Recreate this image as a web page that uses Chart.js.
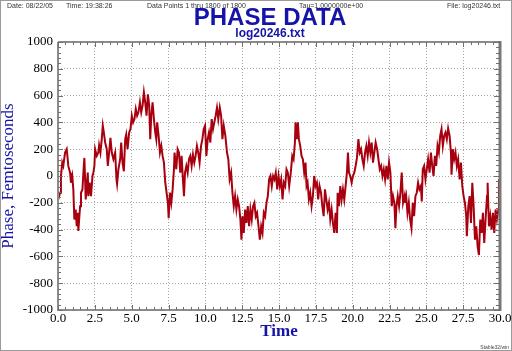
<!DOCTYPE html>
<html>
<head>
<meta charset="utf-8">
<script src="https://cdn.jsdelivr.net/npm/chart.js@4.4.1/dist/chart.umd.min.js"></script>
<style>
  html, body { margin: 0; padding: 0; background: #fff; }
  #wrap { width: 512px; height: 351px; }
</style>
</head>
<body>
<div id="wrap"><canvas id="phaseChart" width="512" height="351"></canvas></div>
<script>
// time (x) and phase in fs (y)
const times = [
  0.00, 0.14, 0.20, 0.29, 0.36, 0.48, 0.59, 0.66, 0.70, 0.82, 0.88, 0.97, 1.04, 1.11, 1.20, 1.27, 1.34, 1.38, 1.50, 1.56,
  1.66, 1.75, 1.79, 1.84, 1.88, 1.95, 2.02, 2.06, 2.15, 2.24, 2.34, 2.40, 2.47, 2.52, 2.63, 2.74, 2.79, 2.88, 2.97, 3.04,
  3.11, 3.20, 3.31, 3.38, 3.47, 3.56, 3.65, 3.76, 3.88, 3.97, 4.01, 4.10, 4.22, 4.29, 4.38, 4.47, 4.56, 4.63, 4.72, 4.83,
  4.92, 5.01, 5.10, 5.19, 5.28, 5.37, 5.46, 5.56, 5.65, 5.74, 5.83, 5.92, 6.01, 6.10, 6.19, 6.26, 6.33, 6.42, 6.51, 6.60,
  6.67, 6.73, 6.83, 6.92, 7.01, 7.10, 7.19, 7.28, 7.37, 7.46, 7.51, 7.60, 7.69, 7.78, 7.87, 7.91,
  8.03, 8.12, 8.21, 8.30, 8.39, 8.48, 8.55, 8.62, 8.71, 8.80, 8.89, 8.98, 9.07, 9.16, 9.25, 9.34, 9.43, 9.52, 9.61, 9.71,
  9.80, 9.89, 9.98, 10.07, 10.16, 10.25, 10.34, 10.43, 10.52, 10.61, 10.70, 10.79, 10.88, 10.98, 11.07, 11.16, 11.25, 11.36, 11.47, 11.56,
  11.65, 11.75, 11.84, 11.93, 12.02, 12.11, 12.20, 12.29, 12.38, 12.45, 12.52, 12.61, 12.70, 12.79, 12.88, 12.97, 13.06, 13.15, 13.24, 13.33,
  13.42, 13.51, 13.61, 13.70, 13.79, 13.88, 13.97, 14.06, 14.15, 14.24, 14.33, 14.42, 14.51, 14.60, 14.69, 14.78, 14.88, 14.97, 15.06, 15.15,
  15.24, 15.33, 15.42, 15.51, 15.60, 15.69,
  15.80, 15.90, 15.99, 16.08, 16.12, 16.21, 16.28, 16.35, 16.44, 16.53, 16.62, 16.71, 16.80, 16.87, 16.94, 17.03, 17.12, 17.21, 17.30, 17.39,
  17.48, 17.57, 17.66, 17.75, 17.85, 17.94, 18.03, 18.12, 18.21, 18.30, 18.39, 18.48, 18.57, 18.66, 18.75, 18.84, 18.93, 18.98, 19.07, 19.16,
  19.25, 19.34, 19.43, 19.52, 19.61, 19.68, 19.75, 19.84, 19.93, 20.02, 20.11, 20.20, 20.29, 20.39, 20.48, 20.57, 20.66, 20.75, 20.84, 20.93,
  21.02, 21.11, 21.20, 21.29, 21.38, 21.47, 21.56, 21.66, 21.75, 21.84, 21.93, 22.02, 22.11, 22.20, 22.29, 22.38, 22.47, 22.56, 22.65, 22.74,
  22.83, 22.90, 22.97, 23.06, 23.15, 23.24, 23.33, 23.42, 23.52,
  23.54, 23.63, 23.72, 23.81, 23.90, 23.99, 24.08, 24.17, 24.26, 24.35, 24.44, 24.53, 24.63, 24.69, 24.76, 24.85, 24.94, 25.03, 25.12, 25.22,
  25.31, 25.40, 25.49, 25.58, 25.67, 25.76, 25.85, 25.94, 26.03, 26.12, 26.21, 26.30, 26.39, 26.48, 26.58, 26.67, 26.71, 26.80, 26.89, 26.98,
  27.07, 27.16, 27.26, 27.35, 27.44, 27.53, 27.62, 27.71, 27.75, 27.85, 27.94, 28.03, 28.12, 28.21, 28.30, 28.39, 28.48, 28.57, 28.66, 28.75,
  28.84, 28.93, 29.02, 29.12, 29.16, 29.25, 29.34, 29.43, 29.52, 29.61, 29.70, 29.79, 29.89, 29.93, 29.97, 30.00
];
const phase = [
  -180, -125, 0, 100, 75, 175, 200, 125, 75, 25, -50, 0, -100, -325, -250, -375, -275, -410, -225, -125,
  -100, 75, 135, -25, -175, -75, 25, -150, -50, -150, 0, 25, 75, 200, 150, 175, 230, 175, 275, 375,
  325, 250, 200, 75, 175, 285, 175, 125, 175, -25, -60, 50, 125, 250, 100, 35, 275, 310, 200, 325,
  350, 450, 400, 425, 500, 450, 475, 550, 475, 525, 625, 550, 450, 610, 525, 275, 450, 550, 425, 325,
  275, 400, 300, 175, 225, 150, 100, -50, -125, -200, -315, -125, -200, -100, 50, 175,
  50, 200, 175, 25, 150, -25, -150, 25, 75, 25, 125, 150, 75, 160, 100, 150, 225, 175, 100, 225,
  275, 350, 375, 150, 275, 325, 250, 425, 350, 400, 450, 510, 425, 510, 450, 275, 375, 300, 175, 125,
  -25, 25, -125, -225, -150, -250, -175, -225, -325, -475, -300, -425, -250, -350, -225, -375, -250, -325, -225, -200,
  -300, -275, -375, -475, -375, -425, -275, -300, -200, -150, -25, 0, -75, 0, -25, 25, -100, 0, -75, -25,
  -175, -50, -75, 50, 25, -75,
  25, 150, 125, 250, 400, 275, 400, 275, 225, 150, 125, 25, 100, -75, -50, -175, -125, -225, -150, 0,
  -75, -50, -175, -75, -125, -225, -300, -100, -175, -250, -200, -325, -250, -350, -425, -275, -425, -125, -225, -75,
  -175, -100, -175, -75, 25, 175, 25, 0, -50, 0, 25, 75, 135, 275, 175, 200, 125, 75, 175, 225,
  150, 250, 175, 250, 100, 175, 250, 200, 125, 50, 75, 0, 50, -25, 75, -25, 100, 25, -225, -150,
  -200, -390, -225, -150, -225, -125, 25, -200, -150,
  -200, -150, -275, -200, -325, -390, -200, -300, -150, -125, -50, -100, -75, -190, 50, 75, -25, 50, 125, 25,
  175, 75, 0, 150, 75, 225, 175, 300, 350, 225, 300, 325, 275, 355, 300, 175, 10, 200, 125, 175,
  75, 125, -25, 100, -75, -150, -200, -300, -450, -225, -150, -350, -50, -225, -475, -375, -525, -590, -325, -425,
  -275, -500, -325, -150, -50, -375, -300, -400, -275, -425, -250, -325, -250, -25, -175, -50
];

// axis tick labels
const xTicks = [0, 2.5, 5, 7.5, 10, 12.5, 15, 17.5, 20, 22.5, 25, 27.5, 30];
const yTicks = [-1000, -800, -600, -400, -200, 0, 200, 400, 600, 800, 1000];

// header / footer texts
const headerTexts = [
  ['Date: 08/22/05', 7],
  ['Time: 19:38:26', 66],
  ['Data Points 1 thru 1800 of 1800', 147],
  ['Tau=1.0000000e+00', 299],
  ['File: log20246.txt', 447]
];
const mainTitle = 'PHASE DATA';
const subTitle = 'log20246.txt';
const footerText = 'Stable32/win';

const blue = '#1414a8';

// frame, minor ticks and the texts around the plot
const frameAndText = {
    id: 'frameAndText',
    beforeDraw(chart) {
        const ctx = chart.ctx;
        ctx.save();
        ctx.fillStyle = '#fff';
        ctx.fillRect(0, 0, chart.width, chart.height);
        ctx.strokeStyle = '#9a9a9a';
        ctx.lineWidth = 1;
        ctx.strokeRect(0.5, 0.5, chart.width - 1, chart.height - 1);
        ctx.restore();
    },
    afterDraw(chart) {
        const ctx = chart.ctx;
        const a = chart.chartArea;
        const xs = chart.scales.x;
        const ys = chart.scales.y;
        ctx.save();

        // axis lines
        ctx.strokeStyle = '#8c8c8c';
        ctx.lineWidth = 2;
        ctx.beginPath();
        ctx.moveTo(a.left, a.top);
        ctx.lineTo(a.left, a.bottom);
        ctx.lineTo(a.right, a.bottom);
        ctx.moveTo(a.left, a.top);
        ctx.lineTo(a.right, a.top);
        ctx.stroke();
        ctx.strokeStyle = '#787878';
        ctx.lineWidth = 3;
        ctx.beginPath();
        ctx.moveTo(a.right, a.top - 1);
        ctx.lineTo(a.right, a.bottom + 1);
        ctx.stroke();

        // ticks, pointing inward
        ctx.strokeStyle = '#707070';
        ctx.lineWidth = 1;
        ctx.beginPath();
        for (let v = -1000; v <= 1000; v += 40) {
            const py = Math.round(ys.getPixelForValue(v)) + 0.5;
            const len = v % 200 === 0 ? 5 : 3;
            ctx.moveTo(a.left, py);
            ctx.lineTo(a.left + len, py);
            ctx.moveTo(a.right, py);
            ctx.lineTo(a.right - len - 1, py);
        }
        for (let v = 0; v <= 30; v += 0.5) {
            const px = Math.round(xs.getPixelForValue(v)) + 0.5;
            const len = v % 2.5 === 0 ? 5 : 3;
            ctx.moveTo(px, a.top);
            ctx.lineTo(px, a.top + len);
            ctx.moveTo(px, a.bottom);
            ctx.lineTo(px, a.bottom - len);
        }
        ctx.stroke();

        // header
        ctx.fillStyle = '#333';
        ctx.font = '7px "Liberation Sans"';
        ctx.textBaseline = 'alphabetic';
        ctx.textAlign = 'left';
        headerTexts.forEach(([txt, px]) => ctx.fillText(txt, px, 8));

        // titles
        ctx.fillStyle = blue;
        ctx.textAlign = 'center';
        ctx.font = 'bold 24px "Liberation Sans"';
        ctx.fillText(mainTitle, 270, 25);
        ctx.font = 'bold 12px "Liberation Sans"';
        ctx.fillText(subTitle, 270, 37);

        // footer
        ctx.fillStyle = '#444';
        ctx.textAlign = 'right';
        ctx.font = '5px "Liberation Sans"';
        ctx.fillText(footerText, 509, 349);
        ctx.restore();
    }
};

const ctx = document.getElementById('phaseChart');
const chart = new Chart(ctx, {
    type: 'line',
    data: {
        datasets: [{
            data: times.map((t, i) => ({ x: t, y: phase[i] })),
            borderColor: '#a8000f',
            borderWidth: 2,
            pointRadius: 0,
            tension: 0,
            fill: false
        }]
    },
    options: {
        responsive: false,
        animation: false,
        layout: {
            padding: { top: 42, right: 12, bottom: 0, left: 0 }
        },
        plugins: {
            legend: { display: false },
            tooltip: { enabled: false }
        },
        scales: {
            x: {
                type: 'linear',
                min: 0,
                max: 30,
                afterBuildTicks: s => { s.ticks = xTicks.map(v => ({ value: v })); },
                afterFit: s => { s.height = 41; s.paddingLeft = 0; s.paddingRight = 0; },
                grid: { color: '#a8a8a8', lineWidth: 1, drawTicks: false },
                border: { display: false, dash: [1, 2] },
                ticks: {
                    autoSkip: false,
                    maxRotation: 0,
                    padding: 1,
                    color: '#000',
                    font: { family: 'Liberation Serif', size: 13 },
                    callback: v => Number(v).toFixed(1)
                },
                title: {
                    display: true,
                    text: 'Time',
                    color: blue,
                    font: { family: 'Liberation Serif', size: 17, weight: 'bold', lineHeight: 1 },
                    padding: { top: 0, bottom: 11 }
                }
            },
            y: {
                min: -1000,
                max: 1000,
                afterBuildTicks: s => { s.ticks = yTicks.map(v => ({ value: v })); },
                afterFit: s => { s.width = 58; s.paddingTop = 0; s.paddingBottom = 0; },
                grid: { color: '#a8a8a8', lineWidth: 1, drawTicks: false },
                border: { display: false, dash: [1, 2] },
                ticks: {
                    padding: 5,
                    color: '#000',
                    font: { family: 'Liberation Serif', size: 13 },
                    callback: v => String(v)
                },
                title: {
                    display: true,
                    text: 'Phase, Femtoseconds',
                    color: blue,
                    font: { family: 'Liberation Serif', size: 17, lineHeight: 1.05 },
                    padding: { top: 0, bottom: 0 }
                }
            }
        }
    },
    plugins: [frameAndText]
});
</script>
</body>
</html>
